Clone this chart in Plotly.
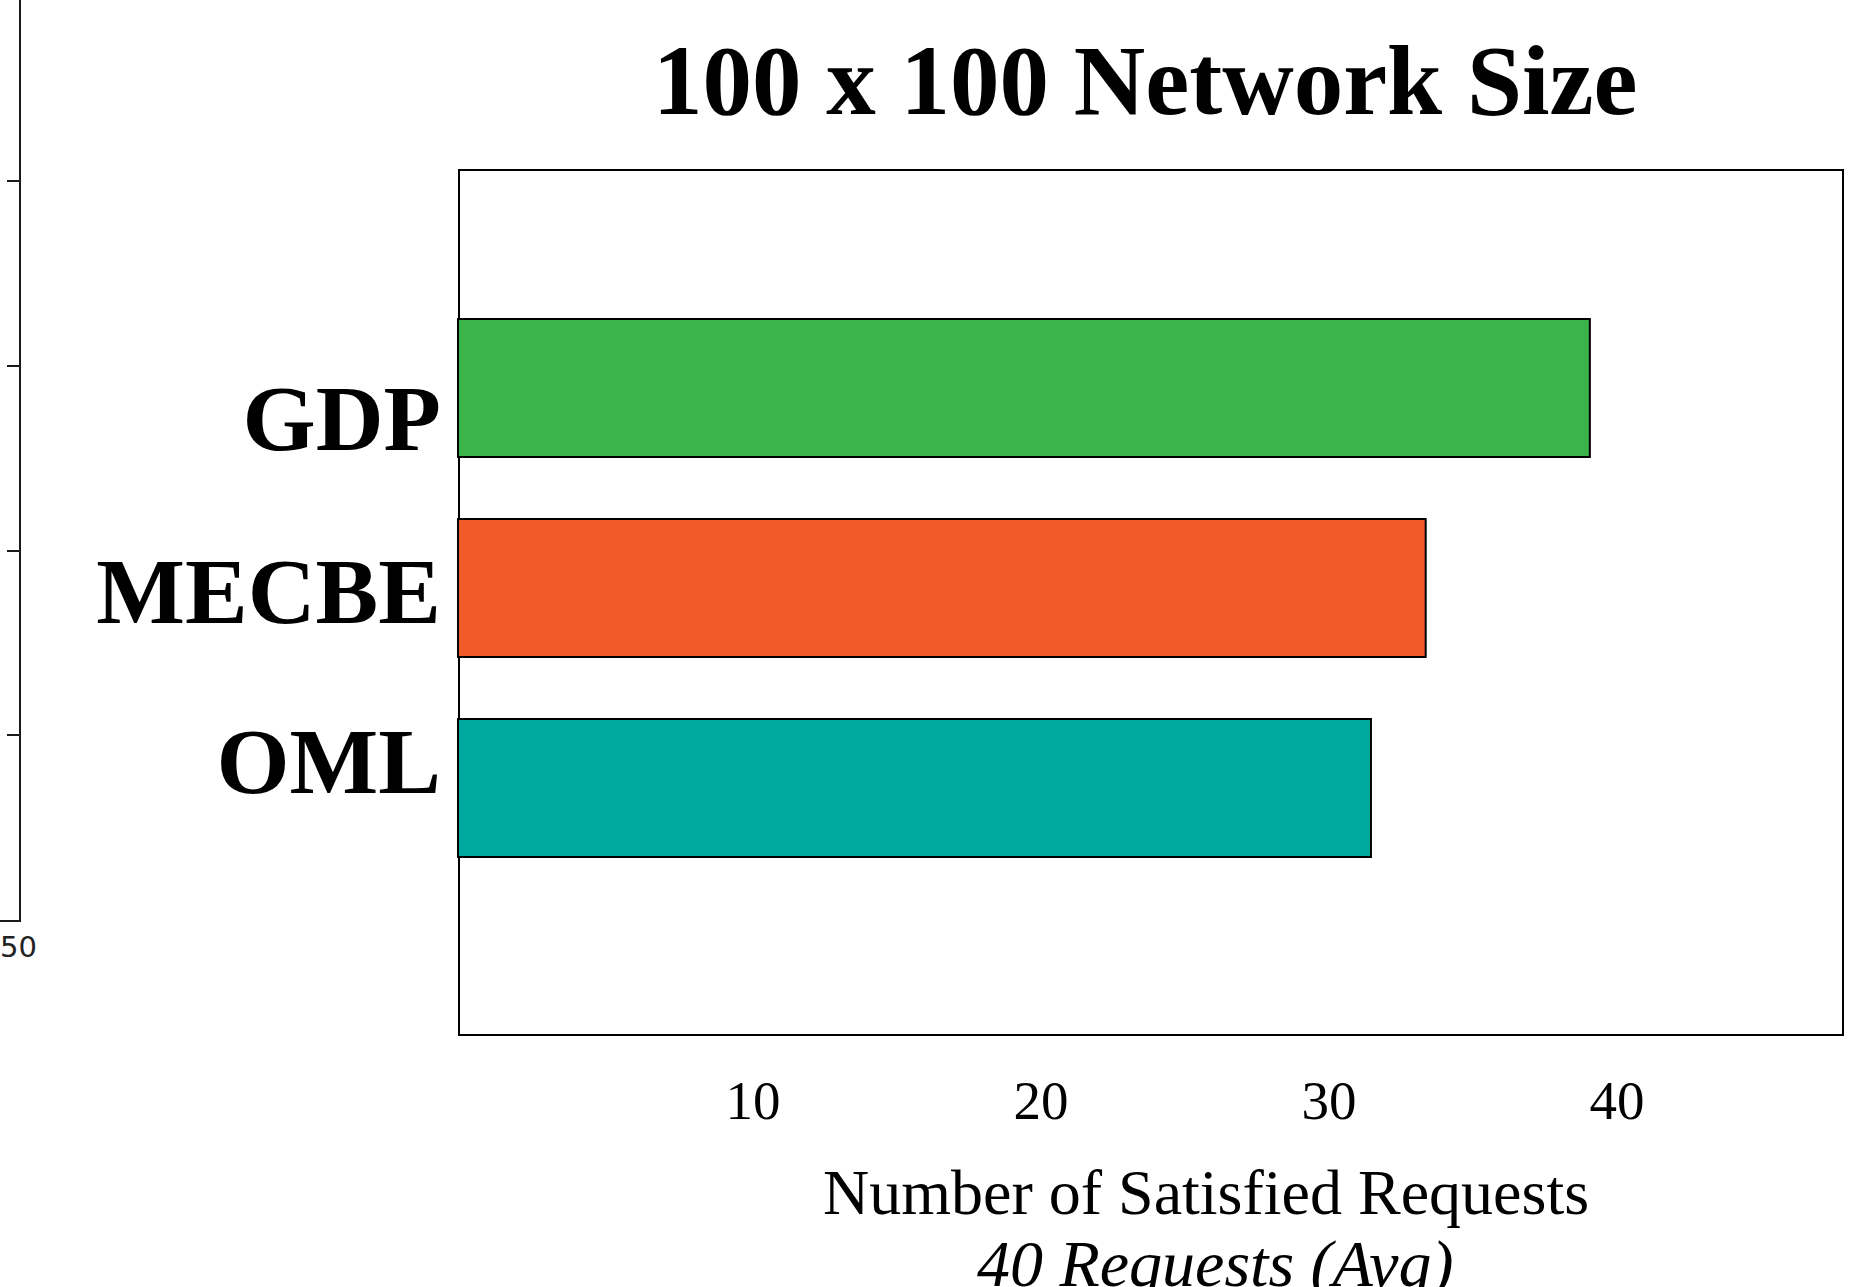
import plotly.graph_objects as go

# Series (bottom to top)
categories = ["OML", "MECBE", "GDP"]
satisfied = [31.7, 33.6, 39.3]
bar_colors = ["#00A99D", "#F15A29", "#3BB54A"]
x_ticks = [10, 20, 30, 40]

W, H = 1864, 1287
SERIF = "Georgia, 'Liberation Serif', 'DejaVu Serif', serif"

# plot-area geometry (pixels)
left_px, right_px, top_px, bottom_px = 456, 1843, 170, 1035
px_per_unit = 28.8
x0_px = 458
x_min = -(x0_px - left_px) / px_per_unit
x_max = (right_px - x0_px) / px_per_unit

y_px_per_unit = 200.0
y_zero_px = 788
y_min = -(bottom_px - y_zero_px) / y_px_per_unit
y_max = (y_zero_px - top_px) / y_px_per_unit

# category label positions on the y axis
label_pos = [0.14, 0.99, 1.855]

fig = go.Figure()
fig.add_trace(go.Bar(
    y=list(range(len(categories))),
    x=satisfied,
    base=0,
    orientation="h",
    width=0.69,
    marker=dict(color=bar_colors, line=dict(color="black", width=2)),
    showlegend=False,
    hoverinfo="x",
))

# axes of the neighbouring panel on the far left
fig.add_trace(go.Scatter(x=[], y=[], xaxis="x2", yaxis="y2", showlegend=False))

fig.update_layout(
    width=W, height=H,
    margin=dict(l=0, r=0, t=0, b=0, autoexpand=False),
    paper_bgcolor="white", plot_bgcolor="rgba(0,0,0,0)",
    xaxis=dict(
        domain=[left_px / W, right_px / W],
        range=[x_min, x_max], automargin=False,
        tickvals=x_ticks,
        ticks="", showgrid=False, zeroline=False, showline=False,
        tickfont=dict(family=SERIF, size=55, color="black"),
        ticklabelshift=7,
        ticklabelstandoff=28,
    ),
    yaxis=dict(
        domain=[1 - bottom_px / H, 1 - top_px / H],
        range=[y_min, y_max], automargin=False,
        tickvals=label_pos,
        ticktext=categories,
        ticks="", showgrid=False, zeroline=False, showline=False,
        tickfont=dict(family=SERIF, size=94, color="black", weight="bold"),
        ticklabelstandoff=14,
    ),
    xaxis2=dict(
        domain=[0, 18.5 / W], anchor="y2", automargin=False,
        range=[40, 50],
        tickvals=[50], ticktext=["50"],
        ticks="", showgrid=False, zeroline=False,
        showline=True, linecolor="#1a1a1a", linewidth=2,
        tickfont=dict(family="DejaVu Sans", size=29, color="#222222"),
        ticklabelstandoff=0,
    ),
    yaxis2=dict(
        domain=[1 - 920 / H, 1], anchor="x2", side="right", automargin=False,
        range=[0, 920 / 184.7],
        tickvals=[1, 2, 3, 4],
        ticks="inside", ticklen=12, tickwidth=2, tickcolor="#1a1a1a",
        showticklabels=False, showgrid=False, zeroline=False,
        showline=True, linecolor="#1a1a1a", linewidth=2,
    ),
    shapes=[dict(
        type="rect", xref="paper", yref="paper", layer="below",
        x0=459 / W, x1=right_px / W,
        y0=1 - bottom_px / H, y1=1 - top_px / H,
        line=dict(color="black", width=2), fillcolor="white",
    )],
    annotations=[
        dict(text="<b>100 x 100 Network Size</b>", xref="paper", yref="paper",
             x=1145 / W, y=1 - 24 / H, xanchor="center", yanchor="top",
             showarrow=False, font=dict(family=SERIF, size=99, color="black")),
        dict(text="Number of Satisfied Requests", xref="paper", yref="paper",
             x=1206 / W, y=1 - 1155 / H, xanchor="center", yanchor="top",
             showarrow=False, font=dict(family=SERIF, size=64, color="black")),
        dict(text="<i>40 Requests (Avg)</i>", xref="paper", yref="paper",
             x=1215 / W, y=1 - 1225 / H, xanchor="center", yanchor="top",
             showarrow=False, font=dict(family=SERIF, size=66, color="black")),
    ],
)

fig.write_html("out.html")
